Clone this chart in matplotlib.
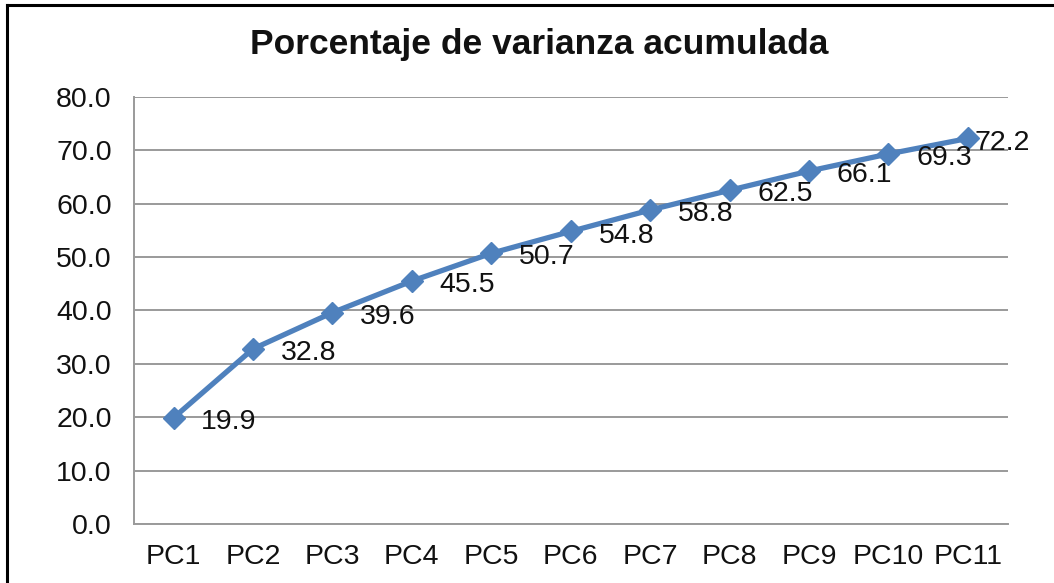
import matplotlib.pyplot as plt
from matplotlib.lines import Line2D

plt.rcParams['font.family'] = ['Liberation Sans', 'DejaVu Sans']

# data
categories = ["PC1", "PC2", "PC3", "PC4", "PC5", "PC6",
              "PC7", "PC8", "PC9", "PC10", "PC11"]
varianza = [19.9, 32.8, 39.6, 45.5, 50.7, 54.8, 58.8, 62.5, 66.1, 69.3, 72.2]
yticks = [0, 10, 20, 30, 40, 50, 60, 70, 80]

LINE_COLOR = "#4F81BD"

fig = plt.figure(figsize=(10.54, 5.83), dpi=100)
ax = fig.add_axes([0.127, 0.101, 0.829, 0.733])

x = list(range(len(categories)))
ax.plot(x, varianza, color=LINE_COLOR, lw=3.8, marker="D", ms=11,
        mec=LINE_COLOR, mfc=LINE_COLOR, zorder=3, clip_on=False)

# data labels to the right of each point
for i, v in enumerate(varianza):
    dx = 20 if i < len(varianza) - 1 else 5
    ax.annotate(f"{v:.1f}", (i, v), xytext=(dx, -3), textcoords="offset points",
                ha="left", va="center", fontsize=20.5, color="#111111", zorder=4)

ax.set_xlim(-0.5, len(categories) - 0.5)
ax.set_ylim(0, 80)
ax.set_yticks(yticks)
ax.set_yticklabels([f"{t:.1f}" for t in yticks])
ax.set_xticks(x)
ax.set_xticklabels(categories)
ax.tick_params(axis="both", labelsize=20.5, length=0, colors="#111111")
ax.tick_params(axis="x", pad=14)
ax.tick_params(axis="y", pad=16)

ax.grid(axis="y", color="#9a9a9a", lw=1.4)
ax.set_axisbelow(True)
for s in ["top", "right"]:
    ax.spines[s].set_visible(False)
for s in ["left", "bottom"]:
    ax.spines[s].set_color("#9a9a9a")
    ax.spines[s].set_linewidth(1.4)

fig.text(0.512, 0.924, "Porcentaje de varianza acumulada", ha="center",
         va="center", fontsize=25.5, fontweight="bold", color="#111111")

# outer border (left and top only visible)
fig.add_artist(Line2D([0.0066, 0.0066], [0, 0.991], transform=fig.transFigure,
                      color="black", lw=2.2))
fig.add_artist(Line2D([0.0066, 1.0], [0.991, 0.991], transform=fig.transFigure,
                      color="black", lw=2.2))

fig.savefig("out.png", dpi=100)
